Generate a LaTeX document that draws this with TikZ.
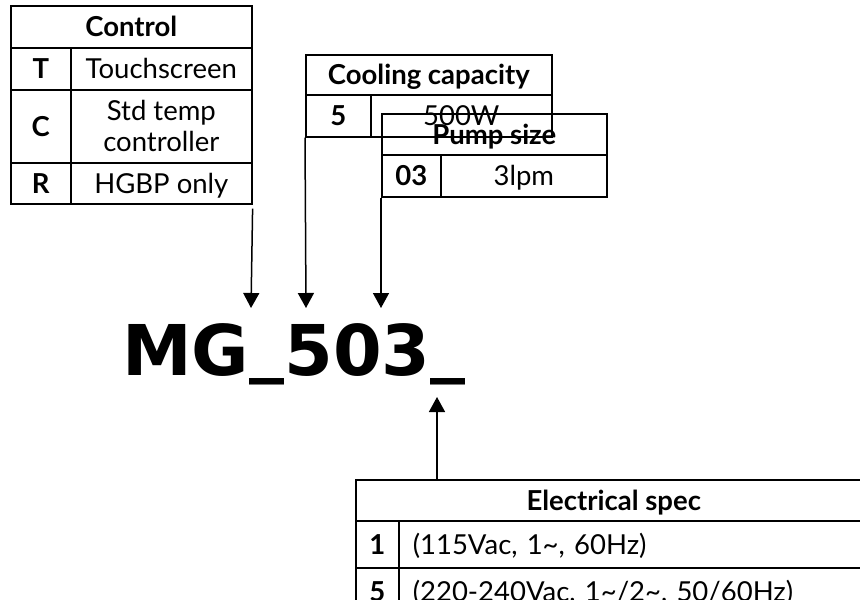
\documentclass[tikz,border=0pt]{standalone}
\usepackage{fontspec}
\setmainfont{Lato}
\newfontfamily\codefont{DejaVu Sans}
\usetikzlibrary{arrows.meta, positioning}

\begin{document}
\begin{tikzpicture}[x=1pt, y=-1pt,
    cell/.style={draw, line width=1.6pt, anchor=north west, inner sep=0pt, align=center,
        font=\fontsize{27.5}{31}\selectfont, text height=19.5pt, text depth=0pt},
    keycell/.style={cell, font=\fontsize{27.5}{31}\selectfont\bfseries},
    pointer/.style={-{Triangle[length=15pt, width=16pt]}, line width=1.5pt},
]
\clip (0,0) rectangle (860,600);

% Control
\node[keycell, minimum width=241pt, minimum height=42pt] (ctrlhead) at (10,5) {Control};
\node[keycell, minimum width=60pt, minimum height=42pt] (ctrlTk) at (10,47) {T};
\node[cell, minimum width=181pt, minimum height=42pt] (ctrlT) at (70,47) {Touchscreen};
\node[keycell, minimum width=60pt, minimum height=73pt] (ctrlCk) at (10,89) {C};
\node[cell, minimum width=181pt, minimum height=73pt, text height=50.5pt] (ctrlC) at (70,89) {Std temp\\controller};
\node[keycell, minimum width=60pt, minimum height=41pt] (ctrlRk) at (10,162) {R};
\node[cell, minimum width=181pt, minimum height=41pt] (ctrlR) at (70,162) {HGBP only};

% Cooling capacity
\node[keycell, minimum width=246pt, minimum height=40pt] (coolhead) at (305,54) {Cooling capacity};
\node[keycell, minimum width=65pt, minimum height=42pt] (coolkey) at (305,94) {5};
\node[cell, minimum width=181pt, minimum height=42pt] (coolval) at (370,94) {500W};

% Pump size
\node[keycell, minimum width=225pt, minimum height=41pt] (pumphead) at (381,113) {Pump size};
\node[keycell, minimum width=59pt, minimum height=42pt] (pumpkey) at (381,154) {03};
\node[cell, minimum width=166pt, minimum height=42pt] (pumpval) at (440,154) {3lpm};

% Electrical spec
\node[keycell, minimum width=516pt, minimum height=41pt] (elechead) at (355,479) {Electrical spec};
\node[keycell, minimum width=43pt, minimum height=47pt] (eleckey1) at (355,520) {1};
\node[cell, minimum height=47pt, text width=445pt, inner xsep=14pt, align=left] (elecval1) at (398,520) {(115Vac, 1\textasciitilde, 60Hz)};
\node[keycell, minimum width=43pt, minimum height=47pt] (eleckey5) at (355,567) {5};
\node[cell, minimum height=47pt, text width=445pt, inner xsep=14pt, align=left] (elecval5) at (398,567) {(220-240Vac, 1\textasciitilde/2\textasciitilde, 50/60Hz)};

% model code
\node[anchor=base west, inner sep=0pt, font=\codefont\bfseries\fontsize{70}{70}\selectfont] (code) at (122,375) {MG\raisebox{7pt}{\_}503\raisebox{7pt}{\_}};

\coordinate (ctrltip) at (251,308);
\coordinate (cooltip) at (306,308);
\coordinate (pumptip) at (381,308);
\coordinate (electip) at (437,397);

\draw[pointer] ([yshift=-4pt]ctrlR.south east) -- (ctrltip);
\draw[pointer] (coolkey.south west) -- (cooltip);
\draw[pointer] (pumpkey.south west) -- (pumptip);
\draw[pointer] (elechead.north -| electip) -- (electip);

\end{tikzpicture}
\end{document}
